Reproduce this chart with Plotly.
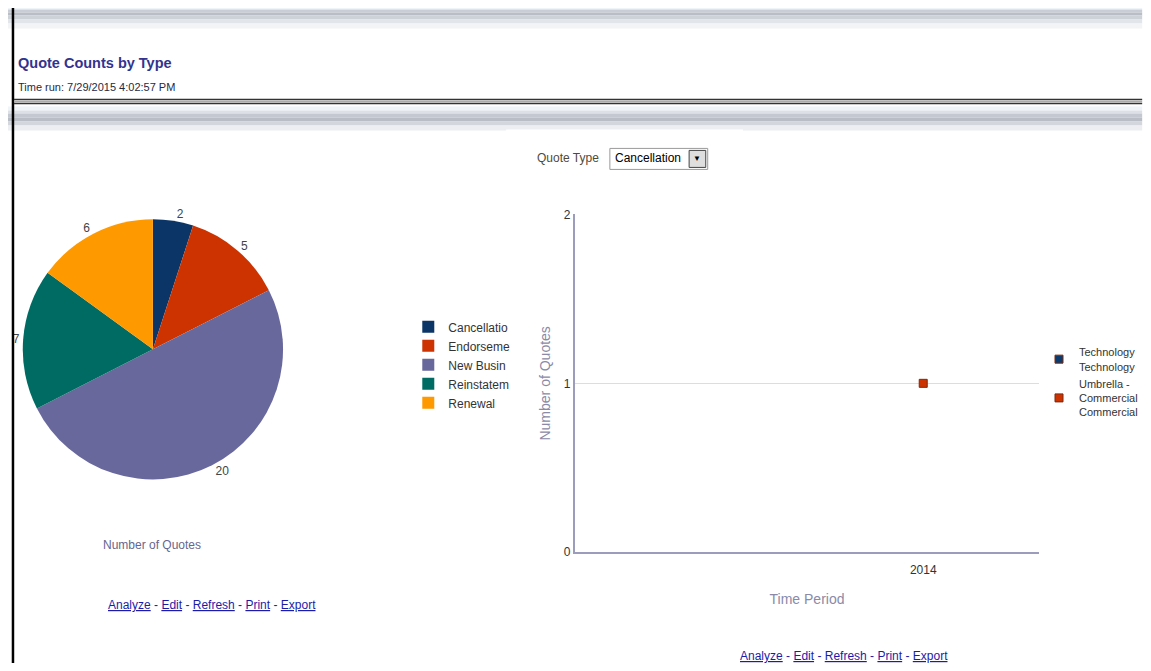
import plotly.graph_objects as go

# page has an 8px body margin, so the figure is sized to fit inside the window
OFF = 8
W, H = 1151 - 2 * OFF, 671 - 2 * OFF

quote_types = ["Cancellatio", "Endorseme", "New Busin", "Reinstatem", "Renewal"]
quote_counts = [2, 5, 20, 7, 6]
pie_colors = ["#0b3566", "#cc3300", "#68689c", "#006b63", "#ff9900"]

periods = [2014]
technology = [None]
umbrella = [1]
series_names = ["Technology<br>Technology", "Umbrella -<br>Commercial<br>Commercial"]
series_colors = ["#0b3a6e", "#cc3300"]

FONT = "Liberation Sans, Arial, sans-serif"


# screen position (as seen in the photo) -> paper fraction
def px(x):
    page = (1.013 * x - 6.5) / 0.986
    return (page - OFF) / W


def py(y):
    page = (y - 6.7) / 0.979
    return 1 - (page - OFF) / H


fig = go.Figure()

fig.add_trace(go.Pie(
    labels=quote_types,
    values=quote_counts,
    marker=dict(colors=pie_colors, line=dict(width=0)),
    sort=False,
    direction="clockwise",
    rotation=0,
    textinfo="value",
    textposition="outside",
    outsidetextfont=dict(size=12, color="#444444", family=FONT),
    domain=dict(x=[max(0, px(16)), px(282)], y=[py(483), py(215)]),
    legend="legend",
    hoverinfo="label+value",
))

for name, vals, col in zip(series_names, [technology, umbrella], series_colors):
    fig.add_trace(go.Scatter(
        x=periods, y=vals, name=name, mode="markers",
        marker=dict(symbol="square", size=8, color=col, line=dict(color="#7a2a10", width=1)),
        legend="legend2", xaxis="x", yaxis="y",
    ))

shapes = []
# grey gradient bands
band1 = [(0, 9, "#eef4f8"), (9, 12, "#c9cdd5"), (12, 15, "#b9bdc6"), (15, 19, "#cdd1d8"),
         (19, 23, "#e2e5ea"), (23, 28, "#f3f4f6")]
band2 = [(106, 110, "#eef4f8"), (110, 113, "#dde1e7"), (113, 117, "#c4c8d0"), (117, 121, "#b9bdc6"),
         (121, 125, "#d3d6dc"), (125, 130, "#eceef1")]
for y0, y1, c in band1 + band2:
    shapes.append(dict(type="rect", xref="paper", yref="paper", x0=px(0), x1=px(1160), y0=py(y1), y1=py(y0),
                       fillcolor=c, line=dict(width=0), layer="below"))
shapes.append(dict(type="rect", xref="paper", yref="paper", x0=px(510), x1=px(752), y0=py(133), y1=py(129),
                   fillcolor="#ffffff", line=dict(width=0), layer="below"))
# frame: top and left black rules
shapes.append(dict(type="line", xref="paper", yref="paper", x0=px(0), x1=px(1160), y0=py(4), y1=py(4),
                   line=dict(color="#000000", width=3)))
shapes.append(dict(type="line", xref="paper", yref="paper", x0=px(6), x1=px(6), y0=py(3), y1=py(680),
                   line=dict(color="#000000", width=2.5)))
# double rule under header
for y, c in [(99, "#333333"), (101, "#aaaaaa"), (103, "#333333")]:
    shapes.append(dict(type="line", xref="paper", yref="paper", x0=px(7), x1=px(1160), y0=py(y), y1=py(y),
                       line=dict(color=c, width=1.5)))
# bottom grey rule
shapes.append(dict(type="rect", xref="paper", yref="paper", x0=px(7), x1=px(1160), y0=py(680), y1=py(664),
                   fillcolor="#b8bbc0", line=dict(width=0)))
# dropdown box
shapes.append(dict(type="rect", xref="paper", yref="paper", x0=px(616), x1=px(716), y0=py(169), y1=py(148),
                   fillcolor="#ffffff", line=dict(color="#9a9a9a", width=1)))
shapes.append(dict(type="rect", xref="paper", yref="paper", x0=px(697), x1=px(714), y0=py(167), y1=py(150),
                   fillcolor="#dedede", line=dict(color="#444444", width=1)))

annotations = [
    dict(text="<b>Quote Counts by Type</b>", x=px(9), y=py(63), xanchor="left", yanchor="middle",
         font=dict(size=14.5, color="#33338f")),
    dict(text="Time run: 7/29/2015 4:02:57 PM", x=px(9), y=py(87), xanchor="left", yanchor="middle",
         font=dict(size=11, color="#1f2a44")),
    dict(text="Number of Quotes", x=px(148), y=py(545), xanchor="center", yanchor="middle",
         font=dict(size=12, color="#66668f")),
    dict(text="Quote Type", x=px(607), y=py(158), xanchor="right", yanchor="middle",
         font=dict(size=12, color="#4f4a3a")),
    dict(text="Cancellation", x=px(619), y=py(158), xanchor="left", yanchor="middle",
         font=dict(size=12, color="#000000")),
    dict(text="▼", x=px(705.5), y=py(158.5), xanchor="center", yanchor="middle",
         font=dict(size=8, color="#000000")),
]

u = "<span style='text-decoration:underline'>%s</span>"
links = " - ".join(u % w for w in ["Analyze", "Edit", "Refresh", "Print", "Export"])
for cx, cy in [(209, 605), (855, 656)]:
    annotations.append(dict(text=links, x=px(cx), y=py(cy), xanchor="center", yanchor="middle",
                            font=dict(size=12, color="#1c1ca8")))

for a in annotations:
    a.update(xref="paper", yref="paper", showarrow=False)

fig.update_layout(
    width=W, height=H,
    margin=dict(l=0, r=0, t=0, b=0),
    paper_bgcolor="#ffffff", plot_bgcolor="#ffffff",
    font=dict(family=FONT, color="#333333"),
    shapes=shapes, annotations=annotations,
    xaxis=dict(domain=[px(580), px(1055)], range=[2012.5, 2014.5], tickvals=periods, ticktext=["2014"],
               showgrid=False, zeroline=False, showline=True, linecolor="#9c9cbc", linewidth=1.5,
               ticks="", tickfont=dict(size=12, color="#333333"), ticklabelstandoff=6,
               title=dict(text="Time Period", font=dict(size=14, color="#8a8aa8"), standoff=18)),
    yaxis=dict(domain=[py(552), py(214)], range=[0, 2], tickvals=[0, 1, 2],
               showgrid=True, gridcolor="#dcdce4", zeroline=False, showline=True, linecolor="#9c9cbc",
               linewidth=1.5, ticks="", tickfont=dict(size=12, color="#333333"),
               title=dict(text="Number of Quotes", font=dict(size=14, color="#8a8aa8"), standoff=10)),
    legend=dict(x=px(410), y=py(312), xanchor="left", yanchor="top", bgcolor="rgba(0,0,0,0)",
                font=dict(size=12, color="#333333"), tracegroupgap=0, itemwidth=30),
    legend2=dict(x=px(1055), y=py(338), xanchor="left", yanchor="top", bgcolor="rgba(0,0,0,0)",
                 font=dict(size=11, color="#333333"), tracegroupgap=19, itemwidth=30),
    showlegend=True,
)

fig.write_html("out.html")
